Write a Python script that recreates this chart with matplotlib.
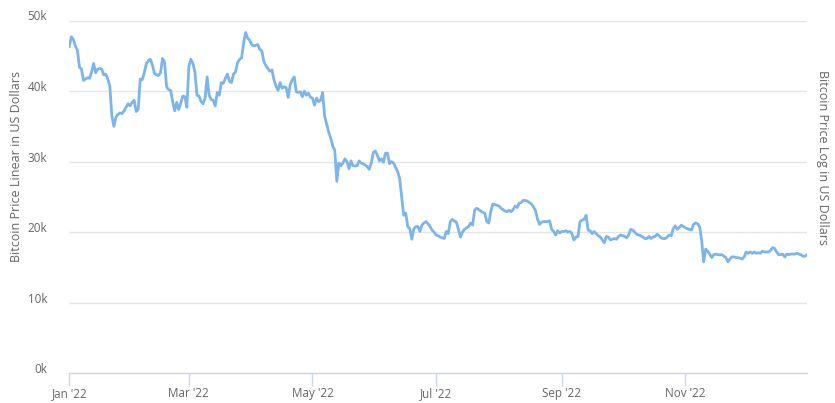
import numpy as np
import pandas as pd
import matplotlib
matplotlib.use("Agg")
import matplotlib.pyplot as plt
import matplotlib.transforms as mtrans

# Daily BTC price 2022, in thousands of USD
jan = [46.3, 47.7, 47.3, 46.4, 45.8, 43.4, 43.1, 41.5, 41.7, 41.9,
       41.8, 42.7, 43.9, 42.6, 43.1, 43.2, 43.1, 42.3, 42.4, 41.7,
       40.7, 36.5, 35.0, 36.3, 36.7, 36.9, 36.8, 37.2, 37.7, 38.2, 37.9]
feb = [38.4, 38.7, 37.1, 37.4, 41.7, 41.6, 42.6, 43.9, 44.3, 44.5,
       43.7, 42.5, 42.3, 42.2, 42.6, 44.6, 44.1, 40.6, 40.2, 40.1,
       38.5, 37.2, 38.4, 37.4, 38.3, 39.3, 39.2, 37.7]
mar = [43.5, 44.5, 43.9, 42.7, 39.4, 39.3, 38.5, 38.2, 39.0, 42.0,
       39.4, 38.8, 38.7, 37.9, 39.8, 39.4, 41.2, 41.1, 41.8, 42.4,
       41.4, 41.2, 42.4, 42.7, 44.0, 44.5, 44.7, 46.8, 48.3, 47.5, 47.2]
apr = [46.6, 46.4, 46.5, 46.6, 45.9, 45.7, 44.2, 43.6, 43.2, 42.8,
       43.0, 41.6, 40.7, 40.1, 41.2, 40.4, 40.6, 40.5, 39.1, 40.9,
       41.6, 42.0, 39.9, 39.8, 39.9, 39.2, 40.0, 39.4, 39.7, 39.1]
may = [39.0, 38.0, 39.0, 38.5, 38.7, 39.8, 36.4, 35.3, 34.2, 33.3,
       32.2, 31.6, 27.2, 29.8, 29.4, 29.8, 30.4, 30.0, 29.0, 30.1,
       29.4, 29.4, 29.4, 30.1, 29.8, 29.7, 29.5, 29.3, 28.9, 29.8, 31.3]
jun = [31.5, 30.9, 30.1, 30.4, 29.9, 31.2, 31.2, 29.7, 30.0, 29.8,
       29.2, 28.6, 27.6, 25.0, 22.4, 22.7, 20.8, 20.5, 19.0, 20.5,
       20.8, 20.8, 20.1, 21.0, 21.3, 21.5, 21.2, 20.8, 20.3, 20.0]
jul = [19.6, 19.5, 19.3, 19.2, 19.1, 20.1, 19.8, 21.5, 21.8, 21.6,
       21.4, 20.4, 19.3, 20.0, 20.4, 20.6, 20.8, 21.3, 21.0, 23.1,
       23.4, 23.2, 23.0, 22.8, 22.7, 21.5, 21.3, 23.0, 24.0, 23.9, 23.8]
aug = [23.7, 23.4, 23.2, 23.0, 22.9, 23.1, 22.9, 23.2, 23.7, 23.5,
       24.1, 24.2, 24.5, 24.5, 24.4, 24.2, 24.0, 23.6, 23.1, 21.9,
       21.1, 21.4, 21.5, 21.5, 21.5, 21.6, 20.4, 20.1, 19.6, 20.2, 19.9]
sep = [20.1, 20.1, 20.2, 20.0, 20.1, 19.8, 18.9, 19.3, 19.4, 21.5,
       21.7, 21.8, 22.4, 20.3, 20.2, 19.8, 20.1, 19.8, 19.5, 19.3,
       18.9, 18.5, 19.4, 19.3, 18.9, 19.0, 19.1, 19.0, 19.4, 19.6]
oct_ = [19.5, 19.4, 19.2, 19.6, 20.4, 20.3, 20.0, 19.7, 19.6, 19.5,
        19.3, 19.1, 19.1, 19.4, 19.1, 19.3, 19.4, 19.7, 19.5, 19.2,
        19.1, 19.1, 19.3, 19.6, 19.5, 20.5, 20.9, 20.4, 20.7, 21.0, 20.8]
nov = [20.6, 20.5, 20.4, 20.3, 21.1, 21.3, 21.2, 20.8, 18.9, 15.8,
       17.6, 17.3, 16.9, 16.4, 16.8, 16.9, 16.8, 16.8, 16.8, 16.6,
       16.4, 15.8, 16.2, 16.5, 16.5, 16.4, 16.4, 16.3, 16.2, 16.5]
dec = [17.2, 17.0, 17.2, 17.0, 17.2, 17.0, 17.1, 17.0, 17.3, 17.2,
       17.2, 17.2, 17.4, 17.8, 17.7, 17.2, 16.8, 16.8, 16.9, 16.5,
       16.9, 16.8, 16.9, 16.9, 16.9, 17.0, 16.9, 16.8, 16.6, 16.6, 16.8]

price = np.array(jan + feb + mar + apr + may + jun + jul + aug + sep
                 + oct_ + nov + dec) * 1000
dates = pd.date_range("2022-01-01", periods=len(price), freq="D")

y_ticks = [0, 10000, 20000, 30000, 40000, 50000]
y_labels = ["0k", "10k", "20k", "30k", "40k", "50k"]
x_ticks = pd.to_datetime(["2022-01-01", "2022-03-01", "2022-05-01",
                          "2022-07-01", "2022-09-01", "2022-11-01"])
x_labels = ["Jan '22", "Mar '22", "May '22", "Jul '22", "Sep '22", "Nov '22"]

LINE = "#7cb5ec"
GRID = "#e6e6e6"
AXIS = "#ccd6eb"
TEXT = "#666666"

plt.rcParams["font.family"] = ["Open Sans", "DejaVu Sans"]

fig = plt.figure(figsize=(8.35, 4.03), dpi=100)
ax = fig.add_axes([69.3 / 835, 1 - 373.3 / 403, (807 - 69.3) / 835,
                   (373.3 - 20.5) / 403])

ax.plot(dates, price, color=LINE, lw=2, solid_joinstyle="round")

ax.set_ylim(0, 50000)
ax.set_xlim(dates[0], dates[-1])
ax.set_yticks(y_ticks)
ax.set_yticklabels(y_labels)
ax.set_xticks(x_ticks)
ax.set_xticklabels(x_labels)

ax.grid(axis="y", color=GRID, lw=1)
ax.set_axisbelow(True)
for s in ("top", "right", "left"):
    ax.spines[s].set_visible(False)
ax.spines["bottom"].set_color(AXIS)
ax.spines["bottom"].set_linewidth(1)

ax.tick_params(axis="y", length=0, pad=16, labelsize=8.4, labelcolor=TEXT)
ax.tick_params(axis="x", length=9, width=1, color=AXIS, pad=1,
               labelsize=8.4, labelcolor=TEXT)

# Highcharts puts the y labels a little above the grid line
shift = mtrans.ScaledTranslation(0, 5 / 100, fig.dpi_scale_trans)
for lab in ax.get_yticklabels():
    lab.set_transform(lab.get_transform() + shift)

fig.text(17 / 835, 1 - 166 / 403, "Bitcoin Price Linear in US Dollars",
         rotation=90, ha="center", va="center", fontsize=9, color=TEXT)
fig.text(822 / 835, 1 - 157 / 403, "Bitcoin Price Log in US Dollars",
         rotation=270, ha="center", va="center", fontsize=9, color=TEXT)

fig.savefig("out.png", dpi=100)
